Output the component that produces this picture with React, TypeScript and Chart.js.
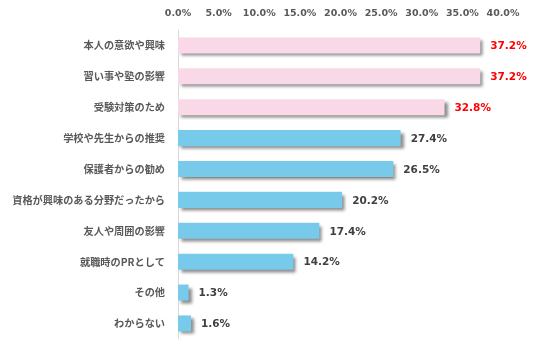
import React, { useEffect, useRef } from "react";
import { Chart, registerables } from "chart.js";

Chart.register(...registerables);

const categories = [
  "本人の意欲や興味",
  "習い事や塾の影響",
  "受験対策のため",
  "学校や先生からの推奨",
  "保護者からの勧め",
  "資格が興味のある分野だったから",
  "友人や周囲の影響",
  "就職時のPRとして",
  "その他",
  "わからない",
];
const values = [37.2, 37.2, 32.8, 27.4, 26.5, 20.2, 17.4, 14.2, 1.3, 1.6];
const highlighted = [true, true, true, false, false, false, false, false, false, false];
const xTicks = [0, 5, 10, 15, 20, 25, 30, 35, 40];

const PINK = "#F9D8E7";
const BLUE = "#77CAEA";
const NUM_FONT = '"DejaVu Sans", Verdana, sans-serif';
const JP_FONT = '"Noto Sans CJK JP", sans-serif';

const shadowPlugin = {
  id: "barShadow",
  beforeDatasetsDraw(chart: any) {
    const ctx = chart.ctx;
    ctx.save();
    ctx.shadowColor = "rgba(0,0,0,0.45)";
    ctx.shadowBlur = 3;
    ctx.shadowOffsetX = 3;
    ctx.shadowOffsetY = 3;
  },
  afterDatasetsDraw(chart: any) {
    chart.ctx.restore();
  },
};

const labelPlugin = {
  id: "valueLabels",
  afterDraw(chart: any) {
    const ctx = chart.ctx;
    const meta = chart.getDatasetMeta(0);
    ctx.save();
    ctx.font = `bold 10.5px ${NUM_FONT}`;
    ctx.textBaseline = "middle";
    ctx.textAlign = "left";
    meta.data.forEach((bar: any, i: number) => {
      ctx.fillStyle = highlighted[i] ? "#FF0000" : "#404040";
      ctx.fillText(values[i].toFixed(1) + "%", bar.x + 10, bar.y + 1);
    });
    ctx.restore();
  },
};

export default function App() {
  const ref = useRef<HTMLCanvasElement>(null);
  useEffect(() => {
    document.body.style.margin = "0";
    const chart = new Chart(ref.current!, {
      type: "bar",
      data: {
        labels: categories,
        datasets: [
          {
            data: values,
            backgroundColor: highlighted.map((h) => (h ? PINK : BLUE)),
            borderWidth: 0,
            barPercentage: 0.52,
            categoryPercentage: 1,
          },
        ],
      },
      options: {
        indexAxis: "y",
        animation: false,
        responsive: false,
        maintainAspectRatio: false,
        layout: { padding: { left: 0, right: 33, top: 0, bottom: 17 } },
        plugins: { legend: { display: false }, tooltip: { enabled: false } },
        scales: {
          x: {
            position: "top",
            min: 0,
            max: 40,
            afterBuildTicks(scale: any) {
              scale.ticks = xTicks.map((v) => ({ value: v }));
            },
            afterFit(scale: any) {
              scale.height = 30;
            },
            grid: { display: false, drawTicks: false },
            border: { display: false },
            ticks: {
              padding: 11,
              color: "#595959",
              font: { family: NUM_FONT, size: 9.5, weight: "bold" },
              callback: (v: any) => Number(v).toFixed(1) + "%",
            },
          },
          y: {
            afterFit(scale: any) {
              scale.width = 178;
            },
            grid: { display: false, drawTicks: false },
            border: { display: true, color: "#D9D9D9", width: 1 },
            ticks: {
              padding: 13,
              color: "#595959",
              font: { family: JP_FONT, size: 10.2, weight: "bold" },
            },
          },
        },
      },
      plugins: [shadowPlugin, labelPlugin],
    });
    return () => chart.destroy();
  }, []);
  return (
    <div style={{ width: 536, height: 358 }}>
      <canvas ref={ref} width={536} height={358} style={{ display: "block" }} />
    </div>
  );
}
